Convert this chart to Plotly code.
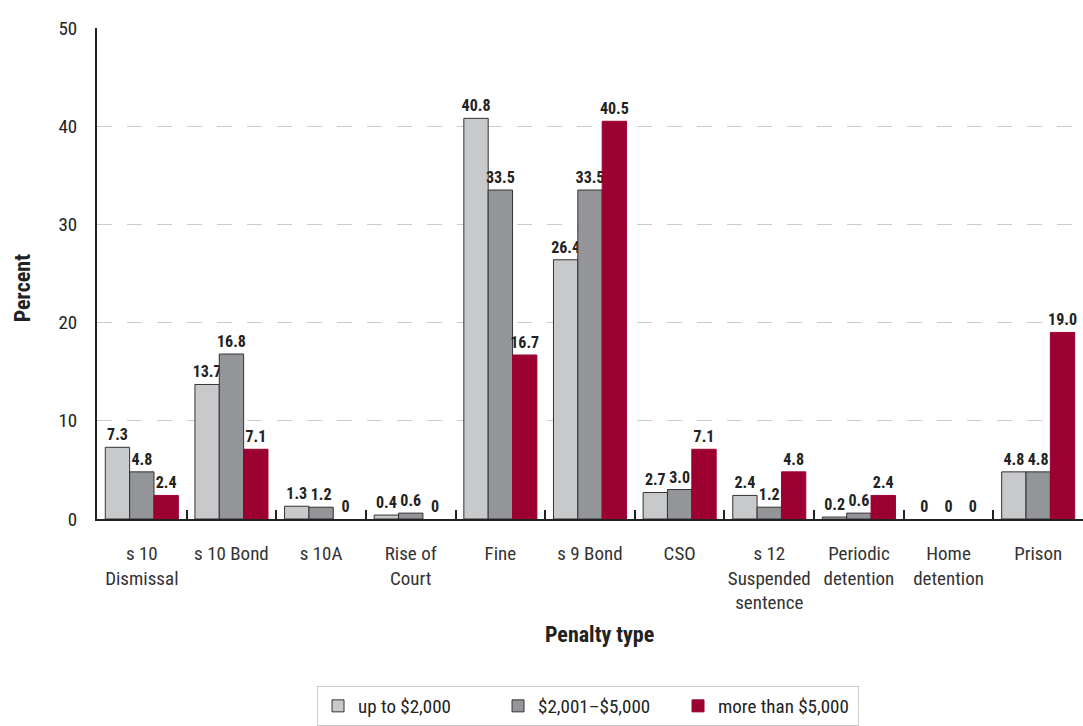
import plotly.graph_objects as go

categories = ["s 10<br>Dismissal", "s 10 Bond", "s 10A", "Rise of<br>Court", "Fine",
              "s 9 Bond", "CSO", "s 12<br>Suspended<br>sentence", "Periodic<br>detention",
              "Home<br>detention", "Prison"]
series_names = ["up to $2,000", "$2,001–$5,000", "more than $5,000"]
up_to_2000 = [7.3, 13.7, 1.3, 0.4, 40.8, 26.4, 2.7, 2.4, 0.2, 0, 4.8]
from_2001_to_5000 = [4.8, 16.8, 1.2, 0.6, 33.5, 33.5, 3.0, 1.2, 0.6, 0, 4.8]
more_than_5000 = [2.4, 7.1, 0, 0, 16.7, 40.5, 7.1, 4.8, 2.4, 0, 19.0]
y_ticks = [0, 10, 20, 30, 40, 50]

FONT = "Roboto Condensed, Liberation Sans Narrow, Arial Narrow, Liberation Sans, sans-serif"
colors = ["#c8c9cb", "#939598", "#9b0031"]
outlines = ["#333333", "#333333", "#9b0031"]


def fmt(v):
    return "0" if v == 0 else f"{v:.1f}"


fig = go.Figure()
for name, vals, col, oc in zip(series_names, [up_to_2000, from_2001_to_5000, more_than_5000],
                               colors, outlines):
    fig.add_trace(go.Bar(
        x=categories, y=vals, name=name,
        marker=dict(color=col, line=dict(color=oc, width=[0 if v == 0 else 1 for v in vals])),
        text=[f"<b>{fmt(v)}</b>" for v in vals], textposition="outside", cliponaxis=False,
        constraintext="none",
        textfont=dict(family=FONT, size=16, color="#222222"),
    ))

fig.update_layout(
    width=1083, height=726,
    margin=dict(l=97, r=0, t=28, b=206),
    paper_bgcolor="white", plot_bgcolor="white",
    barmode="group", bargap=0.185, bargroupgap=0,
    font=dict(family=FONT, size=19, color="#222222"),
    showlegend=True,
    legend=dict(orientation="h", x=0.498, xanchor="center", y=-0.38, yanchor="middle",
                bordercolor="#cccccc", borderwidth=1, font=dict(size=19, family=FONT),
                itemwidth=30, tracegroupgap=0, entrywidth=135, entrywidthmode="pixels"),
    xaxis=dict(
        type="category", tickson="boundaries", ticks="inside", ticklen=9, tickwidth=2,
        tickcolor="#222222", showline=True, linecolor="#222222", linewidth=2,
        tickfont=dict(family=FONT, size=19, color="#333333"), ticklabelstandoff=16,
        tickangle=0, showgrid=False, zeroline=False, fixedrange=True,
    ),
    yaxis=dict(
        range=[0, 50], tickvals=y_ticks, showline=True, linecolor="#222222", linewidth=2,
        showgrid=True, gridcolor="#cccccc", gridwidth=1, griddash="15px,15px",
        ticks="", ticklabelstandoff=14, zeroline=False,
        tickfont=dict(family=FONT, size=19, color="#222222"),
    ),
    annotations=[
        dict(text="<b>Penalty type</b>", xref="paper", yref="paper", x=0.51, y=-0.2358,
             xanchor="center", yanchor="middle", showarrow=False,
             font=dict(family=FONT, size=22, color="#222222")),
        dict(text="<b>Percent</b>", xref="paper", yref="paper", x=-0.076, y=0.47,
             xanchor="center", yanchor="middle", textangle=-90, showarrow=False,
             font=dict(family=FONT, size=22, color="#222222")),
    ],
)

fig.write_html("out.html")
